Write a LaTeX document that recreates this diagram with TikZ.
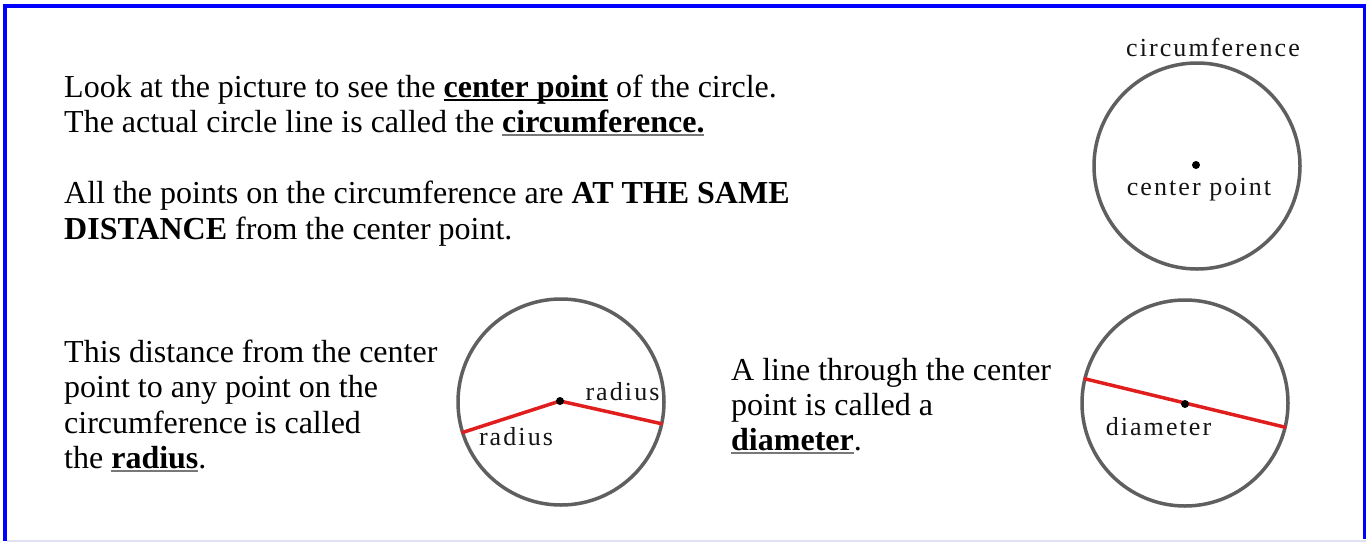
\documentclass[tikz,border=0pt]{standalone}
\usepackage{fontspec}
\setmainfont{Liberation Serif}
\newfontfamily\labfont[LetterSpace=8]{Liberation Serif}
\usetikzlibrary{calc}
\definecolor{bordblue}{RGB}{0,0,255}
\definecolor{ringgray}{RGB}{95,95,95}
\definecolor{linered}{RGB}{225,30,30}
\definecolor{ulgray}{RGB}{120,120,120}
\definecolor{lav}{RGB}{225,225,245}
\definecolor{labink}{RGB}{20,20,20}
\newcommand\myul[2][black]{\setbox0\hbox{#2}\rlap{\color{#1}\rule[-3.5pt]{\wd0}{1.8pt}}\box0}
\begin{document}
\begin{tikzpicture}[x=1pt,y=-1pt,
  txt/.style={anchor=base west, inner sep=0pt, font=\fontsize{32}{36}\selectfont},
  lab/.style={anchor=base, inner sep=0pt, text=labink, font=\labfont\fontsize{26}{28}\selectfont},
  ring/.style={circle, draw=ringgray, line width=3.5pt, minimum size=206pt, inner sep=0pt},
  dot/.style={circle, fill=black, minimum size=8pt, inner sep=0pt},
  redline/.style={draw=linered, line width=3.5pt}]
\useasboundingbox (0,0) rectangle (1366,542);
\fill[white] (0,0) rectangle (1366,542);
% border
\fill[bordblue] (3,4) rectangle (1366,7.5);
\fill[bordblue] (3,4) rectangle (7,541);
\fill[bordblue] (1362.7,4) rectangle (1366,539);
\fill[lav] (7,540) rectangle (1366,542);
% top text
\node[txt] (l1) at (64,97) {Look at the picture to see the \textbf{\myul{center point}} of the circle.};
\node[txt] (l2) at (64,132.5) {The actual circle line is called the \textbf{\myul[ulgray]{circumference.}}};
\node[txt] (l3) at (64,203.5) {All the points on the circumference are \textbf{AT THE SAME}};
\node[txt] (l4) at (64,239) {\textbf{DISTANCE} from the center point.};
% radius text
\node[txt] (r1) at (64,362) {This distance from the center};
\node[txt] (r2) at (64,397.5) {point to any point on the};
\node[txt] (r3) at (64,433) {circumference is called};
\node[txt] (r4) at (64,468.5) {the \textbf{\myul[ulgray]{radius}}.};
% diameter text
\node[txt] (t1) at (731,380) {A line through the center};
\node[txt] (t2) at (731,415) {point is called a};
\node[txt] (t3) at (731,450) {\textbf{\myul[ulgray]{diameter}}.};
% top circle
\node[ring] (c1) at (1197,166) {};
\node[dot] (d1) at (1196,165) {};
\node[lab] (lc) at (1213,56) {circumference};
\node[lab] (lp) at (1199,195) {center point};
% radius circle
\node[ring] (c2) at (561,402) {};
\coordinate (p2) at (560,401);
\path (c2.center) ++(162.8:104) coordinate (ra);
\path (c2.center) ++(12.2:104) coordinate (rb);
\draw[redline] (ra) -- (p2) -- (rb);
\node[dot] (d2) at (p2) {};
\node[lab] (lr1) at (622.5,400) {radius};
\node[lab] (lr2) at (516,445) {radius};
% diameter circle
\node[ring] (c3) at (1185,403) {};
\coordinate (p3) at (1185,404);
\path (c3.center) ++(193.6:104) coordinate (da);
\path (c3.center) ++(13.6:104) coordinate (db);
\draw[redline] (da) -- (db);
\node[dot] (d3) at (p3) {};
\node[lab] (ld) at (1158.5,435) {diameter};
\end{tikzpicture}
\end{document}
